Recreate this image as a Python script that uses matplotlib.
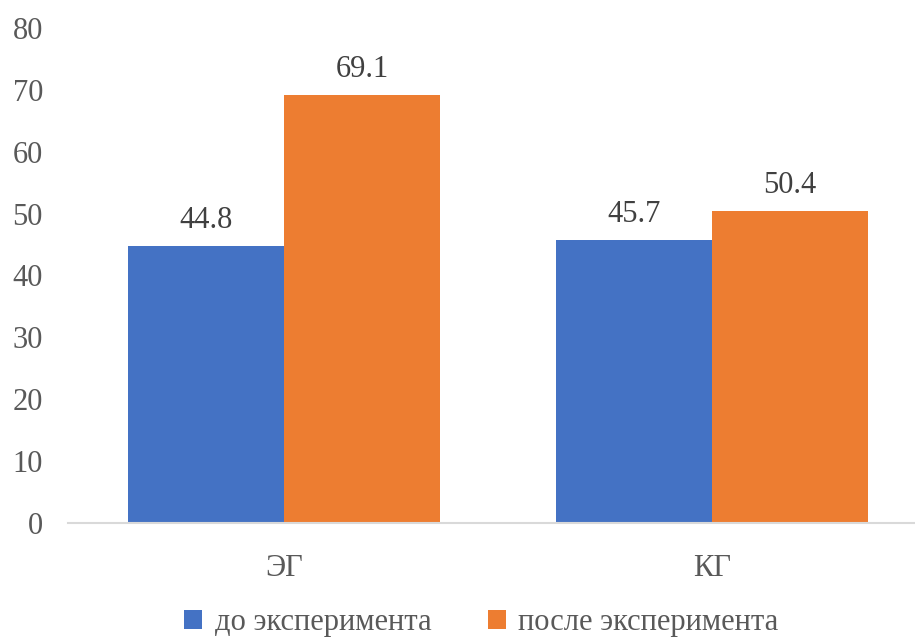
import numpy as np
import matplotlib.pyplot as plt

groups = ['ЭГ', 'КГ']
before = [44.8, 45.7]
after = [69.1, 50.4]
series_names = ['до эксперимента', 'после эксперимента']
colors = ['#4472C4', '#ED7D31']

plt.rcParams['font.family'] = ['Liberation Serif', 'DejaVu Serif']

fig = plt.figure(figsize=(9.15, 6.39), dpi=100)
ax = fig.add_axes([68 / 915, 1 - 523 / 639, (915 - 68) / 915, (523 - 28) / 639])

x = np.arange(len(groups))
w = 0.364
b1 = ax.bar(x - w / 2, before, w, color=colors[0], label=series_names[0])
b2 = ax.bar(x + w / 2, after, w, color=colors[1], label=series_names[1])

for bars in (b1, b2):
    for rect in bars:
        h = rect.get_height()
        ax.annotate(f'{h:.1f}', (rect.get_x() + rect.get_width() / 2, h),
                    xytext=(0, 8), textcoords='offset points',
                    ha='center', va='bottom', fontsize=22, color='#404040')

ax.set_ylim(0, 80)
ax.set_yticks(range(0, 81, 10))
ax.set_xlim(-0.505, 1.474)
ax.set_xticks(x)
ax.set_xticklabels(groups)

for s in ['top', 'right', 'left']:
    ax.spines[s].set_visible(False)
ax.spines['bottom'].set_color('#d9d9d9')
ax.spines['bottom'].set_linewidth(1.5)
ax.tick_params(axis='y', length=0, labelsize=22, labelcolor='#595959', pad=18)
ax.tick_params(axis='x', length=0, labelsize=22, labelcolor='#595959', pad=22)

fig.legend(loc='lower center', bbox_to_anchor=(0.526, -0.04), ncol=2, frameon=False,
           fontsize=22, labelcolor='#595959', handlelength=0.6, handleheight=0.6,
           handletextpad=0.4, columnspacing=1.85)

fig.savefig('out.png', dpi=100)
